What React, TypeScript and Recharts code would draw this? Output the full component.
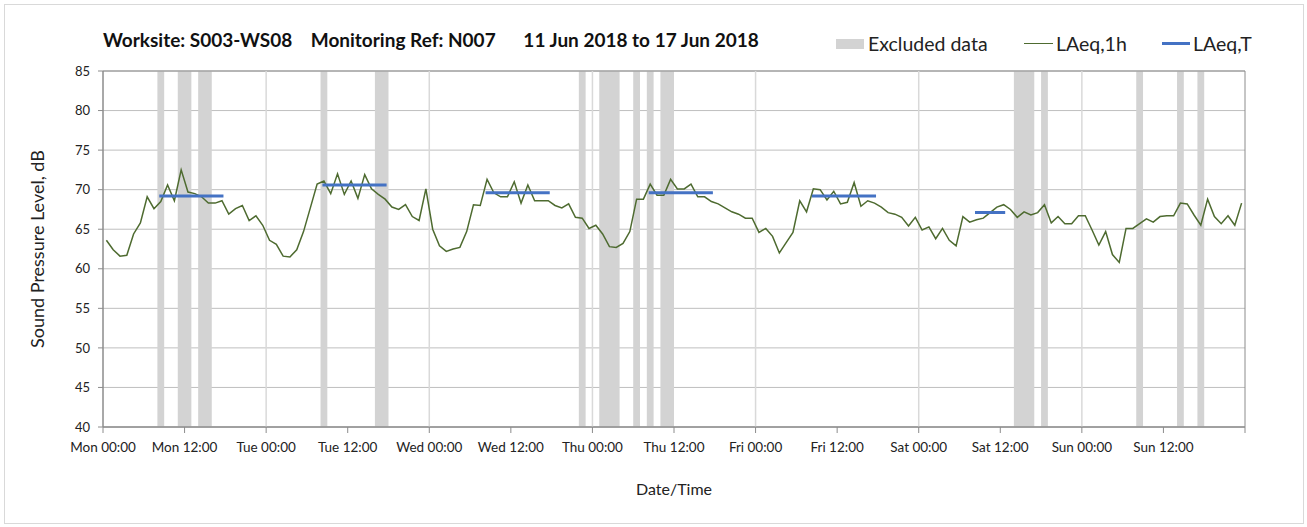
import { ComposedChart, Line, XAxis, YAxis, CartesianGrid, ReferenceArea, ReferenceLine } from 'recharts'

// hourly LAeq,1h values, Mon 00:00 .. Sun 23:00
const laeq1h = [
  63.6, 62.4, 61.6, 61.7, 64.4, 65.8, 69.1, 67.6, 68.5, 70.6, 68.6, 72.5,
  69.7, 69.5, 69.1, 68.3, 68.3, 68.6, 66.9, 67.6, 68.0, 66.1, 66.7, 65.5,
  63.6, 63.1, 61.6, 61.5, 62.4, 64.7, 67.7, 70.7, 71.1, 69.5, 72.0, 69.4,
  71.1, 68.9, 71.9, 70.1, 69.4, 68.8, 67.8, 67.5, 68.1, 66.6, 66.1, 70.1,
  65.0, 62.9, 62.2, 62.5, 62.7, 64.7, 68.1, 68.0, 71.3, 69.6, 69.1, 69.1,
  71.0, 68.3, 70.6, 68.6, 68.6, 68.6, 68.0, 67.7, 68.2, 66.5, 66.4, 65.1,
  65.5, 64.4, 62.8, 62.7, 63.2, 64.7, 68.8, 68.8, 70.7, 69.3, 69.3, 71.3,
  70.1, 70.1, 70.7, 69.1, 69.1, 68.5, 68.2, 67.7, 67.2, 66.9, 66.4, 66.4,
  64.6, 65.1, 64.1, 62.0, 63.3, 64.6, 68.6, 67.2, 70.1, 70.0, 68.7, 69.8,
  68.2, 68.4, 70.9, 67.9, 68.6, 68.3, 67.8, 67.1, 66.9, 66.5, 65.4, 66.5,
  64.9, 65.3, 63.8, 65.1, 63.6, 62.9, 66.6, 65.9, 66.2, 66.4, 67.1, 67.8,
  68.1, 67.5, 66.5, 67.2, 66.8, 67.1, 68.1, 65.8, 66.6, 65.7, 65.7, 66.7,
  66.7, 64.9, 63.0, 64.7, 61.8, 60.8, 65.1, 65.1, 65.7, 66.3, 65.9, 66.6,
  66.7, 66.7, 68.3, 68.2, 66.8, 65.5, 68.8, 66.6, 65.7, 66.7, 65.5, 68.3,
]

// LAeq,T over each daytime period (first and last hour of the period)
const laeqT = [69.2, 70.6, 69.6, 69.6, 69.2, 67.1]
const periodFirstHour = [8, 32, 56, 80, 104, 128]
const periodLastHour = [17, 41, 65, 89, 113, 132]

// excluded data, start / end hour
const excludedStart = [8, 11, 14, 32, 40, 70, 73, 78, 80, 82, 134, 138, 152, 158, 161]
const excludedEnd = [9, 13, 16, 33, 42, 71, 76, 79, 81, 84, 137, 139, 153, 159, 162]

const dayNames = ['Mon', 'Tue', 'Wed', 'Thu', 'Fri', 'Sat', 'Sun']
const xTicks = [0, 12, 24, 36, 48, 60, 72, 84, 96, 108, 120, 132, 144, 156, 168]
const dayLines = [24, 48, 72, 96, 120, 144]
const yTicks = [40, 45, 50, 55, 60, 65, 70, 75, 80, 85]

const chartData = laeq1h.map((v, h) => {
  const p = periodFirstHour.findIndex((f, i) => h >= f && h <= periodLastHour[i])
  return { t: h + 0.5, laeq1h: v, laeqT: p >= 0 ? laeqT[p] : null }
})

const FONT = 'Lato, "Open Sans", sans-serif'

const formatTick = (v: number) => {
  if (v >= 168) return ''
  return `${dayNames[Math.floor(v / 24)]} ${v % 24 === 0 ? '00' : '12'}:00`
}

export default function App() {
  return (
    <div style={{ position: 'absolute', left: 0, top: 0, width: 1307, height: 527, background: '#fff', fontFamily: FONT }}>
      <div style={{ position: 'absolute', left: 4, top: 4, width: 1298, height: 518, border: '1px solid #d9d9d9' }} />
      <div style={{ position: 'absolute', left: 103, top: 28, fontSize: 19, fontWeight: 700, color: '#111', whiteSpace: 'pre' }}>
        {'Worksite: S003-WS08    Monitoring Ref: N007      11 Jun 2018 to 17 Jun 2018'}
      </div>
      <div style={{ position: 'absolute', left: 836, top: 32, fontSize: 19.5, color: '#222', display: 'flex', alignItems: 'center', whiteSpace: 'pre' }}>
        <span style={{ display: 'inline-block', width: 28, height: 10, background: '#d3d3d3', marginRight: 4 }} />
        <span style={{ width: 156 }}>Excluded data</span>
        <span style={{ display: 'inline-block', width: 29, height: 0, borderTop: '1.5px solid #4e6b30', marginRight: 3 }} />
        <span style={{ width: 106 }}>LAeq,1h</span>
        <span style={{ display: 'inline-block', width: 28, height: 0, borderTop: '3px solid #4472c4', marginRight: 3 }} />
        <span>LAeq,T</span>
      </div>
      <ComposedChart width={1307} height={527} data={chartData} margin={{ top: 71, right: 62, bottom: 30, left: 8 }} style={{ position: 'absolute', left: 0, top: 0 }}>
        <CartesianGrid vertical={false} stroke="#bfbfbf" horizontalValues={yTicks} />
        {dayLines.map((d) => (
          <ReferenceLine key={d} x={d} stroke="#d9d9d9" strokeWidth={1.5} />
        ))}
        {excludedStart.map((s, i) => (
          <ReferenceArea key={s} x1={s} x2={excludedEnd[i]} y1={40} y2={85} fill="#d3d3d3" fillOpacity={1} stroke="none" />
        ))}
        <ReferenceArea x1={0} x2={168} y1={40} y2={85} fill="none" stroke="#8c8c8c" />
        <XAxis
          dataKey="t"
          type="number"
          domain={[0, 168]}
          ticks={xTicks}
          interval={0}
          tickFormatter={formatTick}
          height={70}
          tickSize={6}
          tickMargin={9}
          stroke="#8c8c8c"
          tick={{ fill: '#222', fontSize: 13.5, fontFamily: FONT }}
          label={{ value: 'Date/Time', position: 'insideBottom', offset: 2, fill: '#222', fontSize: 16, fontFamily: FONT }}
        />
        <YAxis
          type="number"
          domain={[40, 85]}
          ticks={yTicks}
          interval={0}
          width={95}
          tickSize={5}
          tickMargin={8}
          stroke="#8c8c8c"
          tick={{ fill: '#222', fontSize: 13, fontFamily: FONT }}
          label={{ value: 'Sound Pressure Level, dB', angle: -90, position: 'insideLeft', offset: 30, fill: '#222', fontSize: 18, fontFamily: FONT, style: { textAnchor: 'middle' } }}
        />
        <Line type="linear" dataKey="laeq1h" stroke="#4e6b30" strokeWidth={1.5} dot={false} isAnimationActive={false} />
        <Line type="linear" dataKey="laeqT" stroke="#4472c4" strokeWidth={3} strokeLinecap="square" dot={false} connectNulls={false} isAnimationActive={false} />
      </ComposedChart>
    </div>
  )
}
